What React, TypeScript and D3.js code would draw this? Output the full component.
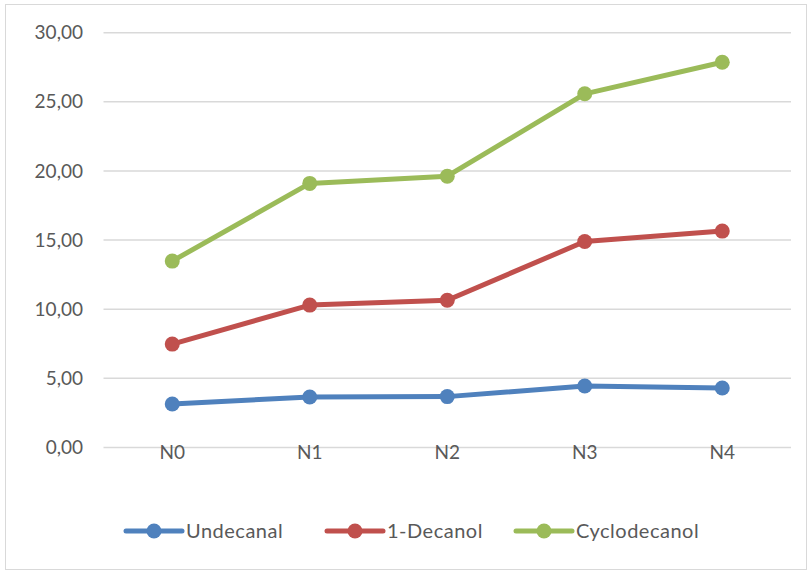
import React from "react";
import * as d3 from "d3";

const categories = ["N0", "N1", "N2", "N3", "N4"];
const undecanal = [3.15, 3.65, 3.68, 4.45, 4.3];
const decanol = [7.48, 10.3, 10.65, 14.9, 15.65];
const cyclodecanol = [13.48, 19.1, 19.62, 25.58, 27.86];
const yTicks = [0, 5, 10, 15, 20, 25, 30];
const seriesNames = ["Undecanal", "1-Decanol", "Cyclodecanol"];
const seriesColors = ["#4F81BD", "#C0504D", "#9BBB59"];

const W = 808;
const H = 572;
const FONT = "Lato, 'Open Sans', sans-serif";

export default function App() {
  const x = d3.scaleBand<string>().domain(categories).range([103.5, 791]);
  const y = d3.scaleLinear().domain([0, 30]).range([447.5, 32.7]);
  const cx = (i: number) => (x(categories[i]) as number) + x.bandwidth() / 2;
  const line = d3
    .line<number>()
    .x((_, i) => cx(i))
    .y((v) => y(v));
  const series = [undecanal, decanol, cyclodecanol];
  const fmt = (v: number) => v.toFixed(2).replace(".", ",");
  const legendX = [126, 327, 516];

  return (
    <svg
      width={W}
      height={H}
      style={{ position: "absolute", left: 0, top: 0, background: "#fff" }}
      fontFamily={FONT}
    >
      <rect x={5.5} y={4.5} width={801} height={565} fill="#fff" stroke="#d9d9d9" strokeWidth={1} />
      {yTicks.map((t) => (
        <g key={t}>
          <line x1={103.5} x2={791} y1={y(t)} y2={y(t)} stroke="#d9d9d9" strokeWidth={1.5} />
          <text x={83} y={y(t)} dy="0.35em" textAnchor="end" fontSize={19} fill="#595959">
            {fmt(t)}
          </text>
        </g>
      ))}
      {categories.map((c, i) => (
        <text key={c} x={cx(i)} y={452} dy="0.35em" textAnchor="middle" fontSize={19} fill="#595959">
          {c}
        </text>
      ))}
      {series.map((s, k) => (
        <g key={k}>
          <path d={line(s) || ""} fill="none" stroke={seriesColors[k]} strokeWidth={5} strokeLinejoin="round" />
          {s.map((v, i) => (
            <circle key={i} cx={cx(i)} cy={y(v)} r={7.5} fill={seriesColors[k]} />
          ))}
        </g>
      ))}
      {seriesNames.map((n, k) => (
        <g key={n}>
          <line
            x1={legendX[k]}
            x2={legendX[k] + 56}
            y1={531}
            y2={531}
            stroke={seriesColors[k]}
            strokeWidth={5}
            strokeLinecap="round"
          />
          <circle cx={legendX[k] + 28} cy={531} r={7.5} fill={seriesColors[k]} />
          <text
            x={legendX[k] + 60}
            y={531}
            dy="0.35em"
            fontSize={20}
            letterSpacing={0.5}
            fill="#595959"
          >
            {n}
          </text>
        </g>
      ))}
    </svg>
  );
}
